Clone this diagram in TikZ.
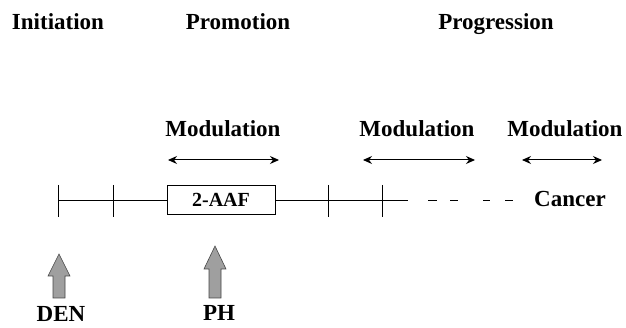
\documentclass[tikz,border=0pt]{standalone}
\usepackage{fontspec}
\setmainfont{Liberation Serif}
\usetikzlibrary{arrows.meta}
\begin{document}
\begin{tikzpicture}[x=1pt, y=-1pt,
	lbl/.style={font=\fontsize{23}{26}\selectfont\bfseries, inner sep=0pt, anchor=base},
	fat/.style={draw=gray!55!black, fill=gray!75, line width=0.6pt}]
	\useasboundingbox (0,0) rectangle (626,328);
	% stages
	\node[lbl] (init)at(58, 30) {Initiation};
	\node[lbl] (prom)at(238, 30) {Promotion};
	\node[lbl] (prog)at(496, 30) {Progression};
	% modulation
	\node[lbl] (modA)at(223, 137) {Modulation};
	\node[lbl] (modB)at(417, 137) {Modulation};
	\node[lbl] (modC)at(565, 137) {Modulation};
	\coordinate (mAl)at(168, 160); \coordinate (mAr)at(279, 160);
	\coordinate (mBl)at(363, 160); \coordinate (mBr)at(475, 160);
	\coordinate (mCl)at(522, 160); \coordinate (mCr)at(602, 160);
	\draw[<->, >={Stealth[length=9pt, width=8pt]}, line width=1pt] (mAl) -- (mAr);
	\draw[<->, >={Stealth[length=9pt, width=8pt]}, line width=1pt] (mBl) -- (mBr);
	\draw[<->, >={Stealth[length=9pt, width=8pt]}, line width=1pt] (mCl) -- (mCr);
	% time line
	\node[draw, rectangle, fill=white, minimum width=108pt, minimum height=29pt, inner sep=0pt, font=\fontsize{20}{22}\selectfont\bfseries] (aaf)at(221, 200) {2-AAF};
	\coordinate (tl0)at(58, 200);
	\coordinate (tlend)at(408, 200);
	\draw (tl0) -- (aaf);
	\draw (aaf) -- (tlend);
	\foreach \x in {58, 113, 328, 382} {
		\draw (\x, 185) -- (\x, 217);
	}
	\coordinate (dashA)at(428, 200); \coordinate (dashB)at(513, 200);
	\draw[dash pattern=on 9pt off 13pt on 8pt off 25pt on 7pt off 15pt on 8pt] (dashA) -- (dashB);
	\node[lbl] (canc)at(570, 207) {Cancer};
	% treatments
	\draw[fat] (53,298) -- (53,276) -- (48,276) -- (59,254) -- (70,276) -- (65,276) -- (65,298) -- cycle;
	\draw[fat] (209,298) -- (209,269) -- (204,269) -- (215,246) -- (226,269) -- (221,269) -- (221,298) -- cycle;
	\node[lbl] (den)at(61, 322) {DEN};
	\node[lbl] (ph)at(219, 321) {PH};
\end{tikzpicture}
\end{document}
